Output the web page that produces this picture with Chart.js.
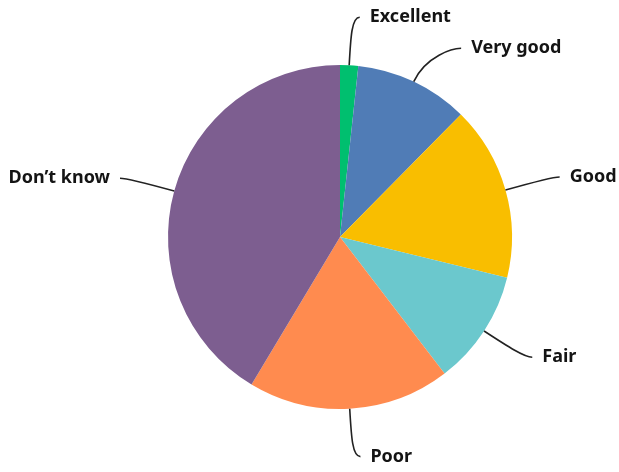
<!DOCTYPE html>
<html>
<head>
<meta charset="utf-8">
<script src="https://cdn.jsdelivr.net/npm/chart.js@4"></script>
<style>
    html, body { margin: 0; padding: 0; background: #fff; }
    #wrap { width: 619px; height: 472px; }
</style>
</head>
<body>
<div id="wrap"><canvas id="rating-pie" width="619" height="472"></canvas></div>
<script>
const labels = ['Excellent', 'Very good', 'Good', 'Fair', 'Poor', "Don\u2019t know"];
const shares = [1.7, 10.7, 16.4, 10.8, 19.0, 41.4];
const sliceColors = ['#00bf6f', '#507cb6', '#f9be00', '#6bc8cd', '#ff8b4f', '#7d5e90'];

// draws the outside labels with curved connector lines
const outsideLabels = {
    id: 'outsideLabels',
    afterDatasetsDraw(chart, args, opts) {
        const ctx = chart.ctx;
        const arcs = chart.getDatasetMeta(0).data;
        const ext = opts.ext;
        const minGap = opts.minGap;

        const items = arcs.map((arc, i) => {
            const mid = (arc.startAngle + arc.endAngle) / 2;
            const cx = arc.x, cy = arc.y, r = arc.outerRadius;
            const R = r + ext;
            return {
                i, mid, cx, cy, r, R,
                right: Math.cos(mid) >= 0,
                y: cy + Math.sin(mid) * R
            };
        });

        // push labels apart on each side
        [true, false].forEach(side => {
            const group = items.filter(it => it.right === side).sort((a, b) => a.y - b.y);
            for (let k = 1; k < group.length; k++) {
                if (group[k].y < group[k - 1].y + minGap) group[k].y = group[k - 1].y + minGap;
            }
        });

        ctx.save();
        ctx.strokeStyle = opts.lineColor;
        ctx.lineWidth = 1.6;
        ctx.font = opts.font;
        ctx.fillStyle = opts.textColor;
        ctx.textBaseline = 'middle';

        items.forEach(it => {
            const dir = it.right ? 1 : -1;
            const x0 = it.cx + Math.cos(it.mid) * it.r;
            const y0 = it.cy + Math.sin(it.mid) * it.r;
            const x1 = it.cx + Math.cos(it.mid) * (it.r + ext * 0.6);
            const y1 = it.cy + Math.sin(it.mid) * (it.r + ext * 0.6);
            const dy = it.y - it.cy;
            const ex = it.cx + dir * Math.sqrt(Math.max(it.R * it.R - dy * dy, 0));
            const endX = ex + dir * opts.tail;

            ctx.beginPath();
            ctx.moveTo(x0, y0);
            ctx.bezierCurveTo(x1, y1, ex, it.y, endX, it.y);
            ctx.stroke();

            ctx.textAlign = it.right ? 'left' : 'right';
            ctx.fillText(chart.data.labels[it.i], endX + dir * opts.gap, it.y);
        });
        ctx.restore();
    }
};

new Chart(document.getElementById('rating-pie'), {
    type: 'pie',
    data: {
        labels: labels,
        datasets: [{
            data: shares,
            backgroundColor: sliceColors,
            borderWidth: 0
        }]
    },
    options: {
        responsive: false,
        animation: false,
        layout: {
            padding: { top: 65, bottom: 63, left: 168, right: 107 }
        },
        plugins: {
            legend: { display: false },
            tooltip: { enabled: false },
            outsideLabels: {
                ext: 48,
                minGap: 31,
                tail: 8,
                gap: 10,
                lineColor: '#222222',
                textColor: '#141414',
                font: "bold 18px 'Noto Sans', sans-serif"
            }
        }
    },
    plugins: [outsideLabels]
});
</script>
</body>
</html>
